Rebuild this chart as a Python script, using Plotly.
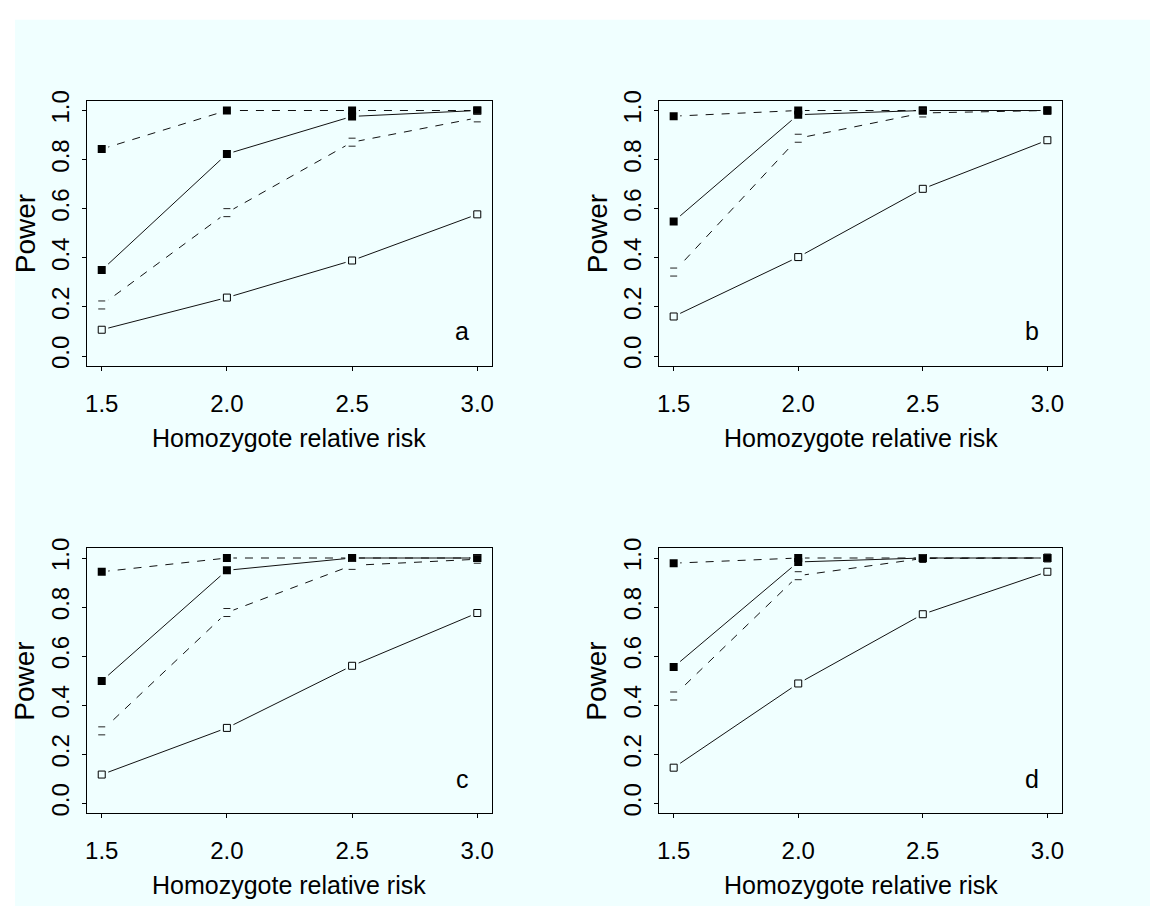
import plotly.graph_objects as go

# ---------------- data ----------------
rel_risk = [1.5, 2.0, 2.5, 3.0]
x_tick_labels = ["1.5", "2.0", "2.5", "3.0"]
y_tick_vals = [0.0, 0.2, 0.4, 0.6, 0.8, 1.0]
y_tick_labels = ["0.0", "0.2", "0.4", "0.6", "0.8", "1.0"]
panel_labels = ["a", "b", "c", "d"]

# series 1: filled squares, dashed
a_s1 = [0.843, 1.0, 1.0, 1.0]
b_s1 = [0.977, 1.0, 1.0, 1.0]
c_s1 = [0.944, 1.0, 1.0, 1.0]
d_s1 = [0.979, 1.0, 1.0, 1.0]
# series 2: filled squares, solid
a_s2 = [0.350, 0.823, 0.976, 1.0]
b_s2 = [0.548, 0.983, 1.0, 1.0]
c_s2 = [0.499, 0.950, 1.0, 1.0]
d_s2 = [0.556, 0.984, 1.0, 1.0]
# series 3: "=" symbols, dashed
a_s3 = [0.208, 0.584, 0.871, 0.970]
b_s3 = [0.342, 0.887, 0.990, 1.0]
c_s3 = [0.296, 0.778, 0.970, 0.995]
d_s3 = [0.438, 0.928, 0.998, 1.0]
# series 4: open squares, solid
a_s4 = [0.107, 0.238, 0.389, 0.577]
b_s4 = [0.161, 0.403, 0.681, 0.879]
c_s4 = [0.118, 0.308, 0.561, 0.776]
d_s4 = [0.146, 0.489, 0.771, 0.944]

panels = [
    (a_s1, a_s2, a_s3, a_s4),
    (b_s1, b_s2, b_s3, b_s4),
    (c_s1, c_s2, c_s3, c_s4),
    (d_s1, d_s2, d_s3, d_s4),
]

# ---------------- layout geometry (pixels) ----------------
W, H = 1152, 909
BG = "#F0FFFF"
FONT = "Liberation Sans, Arial, Helvetica, sans-serif"
col_px = [(85, 492), (659, 1064)]
row_px = [(92, 361), (546, 815)]

fig = go.Figure()
shapes = []
annotations = []

# cyan background panel (white border at top/left)
shapes.append(dict(type="rect", xref="paper", yref="paper", x0=13 / W, x1=1, y0=0, y1=1 - 10 / H,
                   fillcolor=BG, line=dict(width=0), layer="below"))

DASH = "8px,8px"
LINEC = "#111111"

for i, (s1, s2, s3, s4) in enumerate(panels):
    r, c = divmod(i, 2)
    xa = "x" if i == 0 else f"x{i+1}"
    ya = "y" if i == 0 else f"y{i+1}"
    xl, xr = col_px[c]
    yt, yb = row_px[r]
    xdom = [xl / W, xr / W]
    ydom = [1 - yb / H, 1 - yt / H]
    axkey = "xaxis" if i == 0 else f"xaxis{i+1}"
    aykey = "yaxis" if i == 0 else f"yaxis{i+1}"
    fig.layout[axkey] = dict(
        domain=xdom, anchor=ya, range=[1.44, 3.06], tickvals=rel_risk, ticktext=x_tick_labels,
        showline=True, mirror=True, linecolor="black", linewidth=1, showgrid=False, zeroline=False,
        ticks="outside", ticklen=4, tickwidth=1, tickcolor="black",
        tickfont=dict(family=FONT, size=24, color="black"), ticklabelstandoff=12,
    )
    fig.layout[aykey] = dict(
        domain=ydom, anchor=xa, range=[-0.04, 1.04], tickvals=y_tick_vals, ticktext=y_tick_labels,
        showline=True, mirror=True, linecolor="black", linewidth=1, showgrid=False, zeroline=False,
        ticks="outside", ticklen=4, tickwidth=1, tickcolor="black", tickangle=-90,
        tickfont=dict(family=FONT, size=24, color="black"), ticklabelstandoff=3,
    )

    # lines
    for ys, dash in ((s1, DASH), (s2, "solid"), (s3, DASH), (s4, "solid")):
        fig.add_trace(go.Scatter(x=rel_risk, y=ys, mode="lines", xaxis=xa, yaxis=ya,
                                 line=dict(color=LINEC, width=1, dash=dash), hoverinfo="skip",
                                 showlegend=False))
    # gaps around points (type="b" style)
    for ys in (s4, s3, s2, s1):
        fig.add_trace(go.Scatter(x=rel_risk, y=ys, mode="markers", xaxis=xa, yaxis=ya,
                                 marker=dict(symbol="square", size=13, color=BG, line=dict(width=0)),
                                 hoverinfo="skip", showlegend=False))
    # open squares
    fig.add_trace(go.Scatter(x=rel_risk, y=s4, mode="markers", xaxis=xa, yaxis=ya,
                             marker=dict(symbol="square", size=7, color=BG,
                                         line=dict(color="black", width=1)),
                             hoverinfo="skip", showlegend=False))
    # filled squares
    for ys in (s2, s1):
        fig.add_trace(go.Scatter(x=rel_risk, y=ys, mode="markers", xaxis=xa, yaxis=ya,
                                 marker=dict(symbol="square", size=8, color="black",
                                             line=dict(width=0)),
                                 hoverinfo="skip", showlegend=False))
    # "=" symbols for series 3
    for xv, yv in zip(rel_risk, s3):
        for off in (4, -4):
            shapes.append(dict(type="line", xref=xa, yref=ya, xsizemode="pixel", ysizemode="pixel",
                               xanchor=xv, yanchor=yv, x0=-3.5, x1=3.5, y0=off, y1=off,
                               line=dict(color="#222222", width=1)))

    # axis titles and panel letter
    annotations.append(dict(text="Power", xref="paper", yref="paper",
                            x=(xl - 62) / W, y=1 - (yt + yb) / 2 / H, textangle=-90,
                            showarrow=False, xanchor="center", yanchor="middle",
                            font=dict(family=FONT, size=28, color="black")))
    annotations.append(dict(text="Homozygote relative risk", xref="paper", yref="paper",
                            x=(xl + xr) / 2 / W, y=1 - (yb + 73) / H,
                            showarrow=False, xanchor="center", yanchor="middle",
                            font=dict(family=FONT, size=25, color="black")))
    annotations.append(dict(text=panel_labels[i], xref="paper", yref="paper",
                            x=(xr - 21) / W, y=1 - (yb - 19) / H,
                            showarrow=False, xanchor="right", yanchor="bottom",
                            font=dict(family=FONT, size=25, color="black")))

fig.update_layout(
    width=W, height=H, margin=dict(l=0, r=0, t=0, b=0),
    paper_bgcolor="white", plot_bgcolor=BG, showlegend=False,
    shapes=shapes, annotations=annotations,
    font=dict(family=FONT, color="black"),
)

POST = (
    "document.documentElement.style.overflow='hidden';"
    "document.body.style.margin='0';document.body.style.overflow='hidden';"
    "var gd=document.getElementById('{plot_id}');"
    "gd.style.position='absolute';gd.style.left='0px';gd.style.top='0px';"
)

fig.write_html("out.html", config={"displayModeBar": False}, post_script=POST)
